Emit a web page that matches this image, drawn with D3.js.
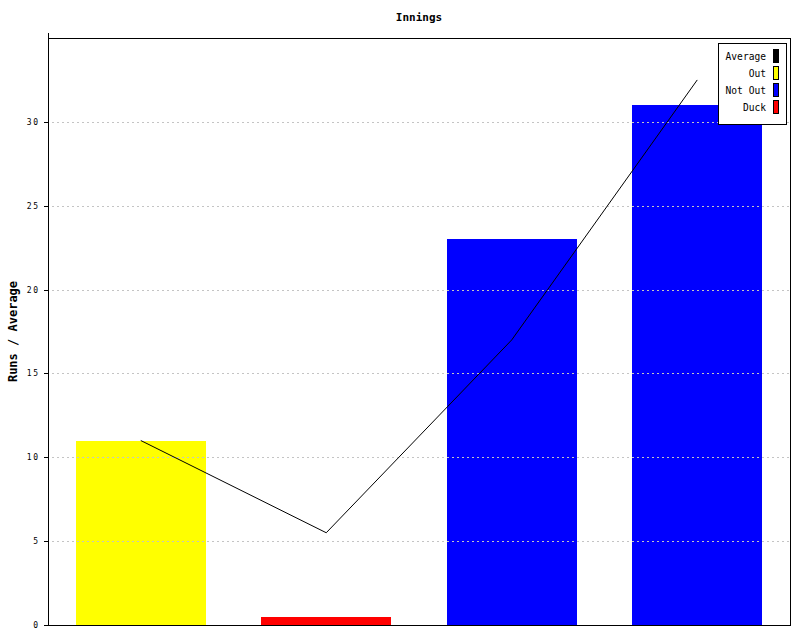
<!DOCTYPE html>
<html><head><meta charset="utf-8">
<script src="https://cdn.jsdelivr.net/npm/d3@7"></script>
<style>body{margin:0;background:#fff}</style>
</head><body>
<svg id="c" width="800" height="640"></svg>
<script>
const categories = ["1", "2", "3", "4"];
const barValues = [11, 0.5, 23, 31];
const barTypes = ["Out", "Duck", "Not Out", "Not Out"];
const averageValues = [11, 5.5, 17, 32.5];
const yTicks = [0, 5, 10, 15, 20, 25, 30];
const legendItems = ["Average", "Out", "Not Out", "Duck"];
const colors = {"Average": "#000000", "Out": "#ffff00", "Not Out": "#0000ff", "Duck": "#ff0000"};

const svg = d3.select("#c");
const L = 48, R = 790, T = 38, B = 625;
const mono = "'DejaVu Sans Mono', 'Liberation Mono', monospace";

const x = d3.scaleBand().domain(categories).range([L, R]).paddingInner(0.3).paddingOuter(0.15);
const y = d3.scaleLinear().domain([0, 35]).range([B, T]);

// bars
svg.append("g").selectAll("rect").data(categories).join("rect")
  .attr("x", d => Math.round(x(d)))
  .attr("width", Math.round(x.bandwidth()))
  .attr("y", (d, i) => Math.round(y(barValues[i])))
  .attr("height", (d, i) => B - Math.round(y(barValues[i])))
  .attr("fill", (d, i) => colors[barTypes[i]])
  .attr("shape-rendering", "crispEdges");

// gridlines
svg.append("g").selectAll("line").data(yTicks.filter(t => t > 0)).join("line")
  .attr("x1", L + 4).attr("x2", R)
  .attr("y1", d => Math.round(y(d)) + 0.5).attr("y2", d => Math.round(y(d)) + 0.5)
  .attr("stroke", "#c4c4c4").attr("stroke-dasharray", "2,3")
  .attr("shape-rendering", "crispEdges");

// frame: top and right
svg.append("path")
  .attr("d", `M${L},${T + 0.5}H${R + 0.5}V${B}`)
  .attr("fill", "none").attr("stroke", "#000").attr("shape-rendering", "crispEdges");

// y axis
const yAxis = d3.axisLeft(y).tickValues(yTicks).tickSize(5).tickSizeOuter(0).tickPadding(4)
  .tickFormat(d3.format("d"));
const ga = svg.append("g").attr("transform", `translate(${L + 0.5},0)`).call(yAxis);
ga.select(".domain").attr("d", `M0,${T - 5}V${B + 0.5}`).attr("stroke", "#000");
ga.selectAll(".tick line").attr("stroke", "#000").attr("shape-rendering", "crispEdges");
ga.selectAll(".tick text").attr("font-family", mono).attr("font-size", 8)
  .attr("letter-spacing", 1.5).attr("fill", "#000");
ga.attr("shape-rendering", "crispEdges");

// x axis line
svg.append("line").attr("x1", L).attr("x2", R + 1)
  .attr("y1", B + 0.5).attr("y2", B + 0.5)
  .attr("stroke", "#000").attr("shape-rendering", "crispEdges");

// average line
const line = d3.line()
  .x((d, i) => x(categories[i]) + x.bandwidth() / 2)
  .y(d => y(d));
svg.append("path").datum(averageValues).attr("d", line)
  .attr("fill", "none").attr("stroke", "#000").attr("stroke-width", 1);

// title
svg.append("text").attr("x", (L + R) / 2).attr("y", 21).attr("text-anchor", "middle")
  .attr("font-family", mono).attr("font-size", 11).attr("font-weight", "bold").text("Innings");

// y label
svg.append("text").attr("transform", `translate(17,${(T + B) / 2}) rotate(-90)`)
  .attr("text-anchor", "middle").attr("font-family", mono).attr("font-size", 12)
  .attr("font-weight", "bold").text("Runs / Average");

// legend
const lg = svg.append("g");
lg.append("rect").attr("x", 718.5).attr("y", 43.5).attr("width", 68).attr("height", 81)
  .attr("fill", "#fff").attr("stroke", "#000").attr("shape-rendering", "crispEdges");
legendItems.forEach((k, i) => {
  const cy = 56 + i * 17;
  lg.append("text").attr("x", 766).attr("y", cy + 4).attr("text-anchor", "end")
    .attr("font-family", mono).attr("font-size", 9.6).text(k);
  lg.append("rect").attr("x", 773.5).attr("y", cy - 6.5).attr("width", 5).attr("height", 13)
    .attr("fill", colors[k]).attr("stroke", "#000").attr("shape-rendering", "crispEdges");
});
</script>
</body></html>
